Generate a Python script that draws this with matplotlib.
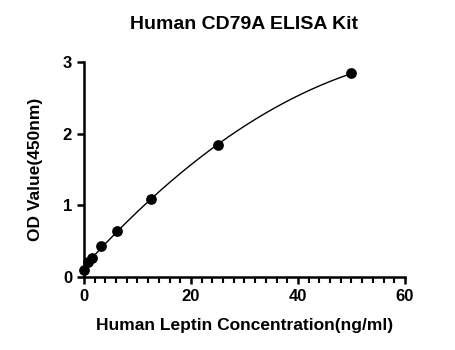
import matplotlib
matplotlib.use("Agg")
import matplotlib.pyplot as plt
from matplotlib.ticker import MultipleLocator
import numpy as np

# standard curve data
conc = [0, 0.78, 1.56, 3.125, 6.25, 12.5, 25, 50]
od = [0.10, 0.21, 0.27, 0.43, 0.64, 1.08, 1.84, 2.84]

plt.rcParams['font.family'] = ['Liberation Sans', 'DejaVu Sans']

fig = plt.figure(figsize=(4.56, 3.5), dpi=100)
ax = fig.add_axes([0.184, 0.209, 0.704, 0.614])

# fitted curve (quadratic fit through the standards)
coef = np.polyfit(conc, od, 2)
xs = np.linspace(0, 50, 200)
ax.plot(xs, np.polyval(coef, xs), color='black', lw=1.0, zorder=2)
ax.scatter(conc, od, s=45, color='black', zorder=3, clip_on=False)

ax.set_xlim(0, 60)
ax.set_ylim(0, 3)
ax.xaxis.set_major_locator(MultipleLocator(20))
ax.xaxis.set_minor_locator(MultipleLocator(2))
ax.yaxis.set_major_locator(MultipleLocator(1))

for s in ['top', 'right']:
    ax.spines[s].set_visible(False)
for s in ['left', 'bottom']:
    ax.spines[s].set_linewidth(1.8)
ax.tick_params(axis='both', which='major', width=1.8, length=5, labelsize=12)
ax.tick_params(axis='x', which='minor', width=1.5, length=4)
for lab in ax.get_xticklabels() + ax.get_yticklabels():
    lab.set_fontweight('bold')

ax.set_xlabel('Human Leptin Concentration(ng/ml)', fontsize=12.5, fontweight='bold', labelpad=10)
ax.set_ylabel('OD Value(450nm)', fontsize=12.5, fontweight='bold', labelpad=14)
ax.set_title('Human CD79A ELISA Kit', fontsize=14, fontweight='bold', pad=24)

fig.savefig('out.png', dpi=100)
